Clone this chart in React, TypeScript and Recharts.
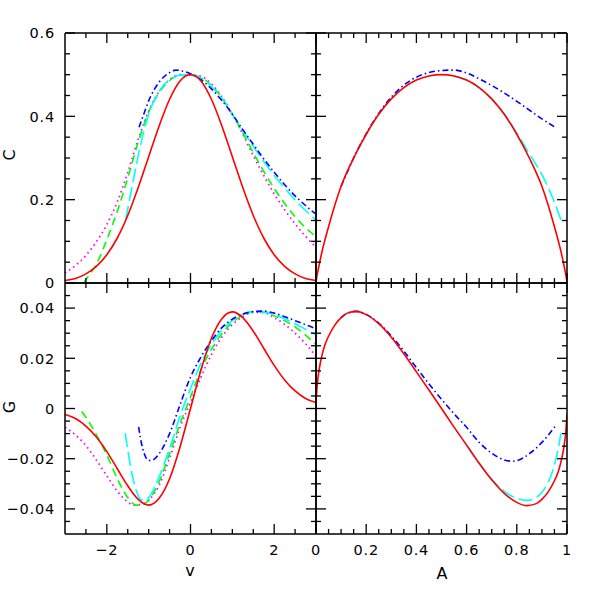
import React from 'react';
import { LineChart, Line, XAxis, YAxis } from 'recharts';

const W = 598;
const H = 598;
const FONT = '"DejaVu Sans", Verdana, sans-serif';

// ---------- tick values ----------
const vTicks = [-2.5, -2, -1.5, -1, -0.5, 0, 0.5, 1, 1.5, 2, 2.5];
const vMajor = [-2, 0, 2];
const cTicks = [0, 0.05, 0.1, 0.15, 0.2, 0.25, 0.3, 0.35, 0.4, 0.45, 0.5, 0.55, 0.6];
const cMajor = [0, 0.2, 0.4, 0.6];
const gTicks = [-0.045, -0.04, -0.035, -0.03, -0.025, -0.02, -0.015, -0.01, -0.005, 0, 0.005, 0.01, 0.015, 0.02, 0.025, 0.03, 0.035, 0.04, 0.045];
const gMajor = [-0.04, -0.02, 0, 0.02, 0.04];
const aTicks = [0, 0.05, 0.1, 0.15, 0.2, 0.25, 0.3, 0.35, 0.4, 0.45, 0.5, 0.55, 0.6, 0.65, 0.7, 0.75, 0.8, 0.85, 0.9, 0.95, 1];
const aMajor = [0, 0.2, 0.4, 0.6, 0.8, 1];

// ---------- top-left: C vs v ----------
const vRedC = [-3, -2.75, -2.5, -2.25, -2, -1.75, -1.5, -1.25, -1, -0.75, -0.5, -0.25, 0, 0.25, 0.5, 0.75, 1, 1.25, 1.5, 1.75, 2, 2.25, 2.5, 2.75, 3];
const cRed = [0.006, 0.011, 0.022, 0.040, 0.068, 0.108, 0.162, 0.229, 0.303, 0.377, 0.441, 0.485, 0.5, 0.485, 0.441, 0.377, 0.303, 0.229, 0.162, 0.108, 0.068, 0.040, 0.022, 0.011, 0.006];
const vMagC = [-3, -2.75, -2.5, -2.25, -2, -1.75, -1.5, -1.25, -1, -0.75, -0.5, -0.25, 0, 0.25, 0.5, 0.75, 1, 1.25, 1.5, 1.75, 2, 2.25, 2.5, 2.75, 3];
const cMag = [0.024, 0.042, 0.066, 0.099, 0.14, 0.195, 0.265, 0.345, 0.412, 0.46, 0.488, 0.5, 0.499, 0.496, 0.478, 0.447, 0.405, 0.357, 0.306, 0.258, 0.214, 0.176, 0.142, 0.112, 0.086];
const vGreenC = [-2.55, -2.5, -2.25, -2, -1.75, -1.5, -1.25, -1, -0.75, -0.5, -0.25, 0, 0.25, 0.5, 0.75, 1, 1.25, 1.5, 1.75, 2, 2.25, 2.5, 2.75, 3];
const cGreen = [0.0, 0.008, 0.045, 0.104, 0.172, 0.252, 0.338, 0.41, 0.457, 0.486, 0.498, 0.499, 0.494, 0.474, 0.445, 0.405, 0.36, 0.313, 0.268, 0.227, 0.191, 0.159, 0.133, 0.111];
const vCyanC = [-1.55, -1.5, -1.4, -1.25, -1.1, -1, -0.75, -0.5, -0.25, 0, 0.25, 0.5, 0.75, 1, 1.25, 1.5, 1.75, 2, 2.25, 2.5, 2.75, 3];
const cCyan = [0.152, 0.178, 0.23, 0.305, 0.37, 0.405, 0.46, 0.488, 0.499, 0.499, 0.492, 0.472, 0.443, 0.405, 0.366, 0.328, 0.292, 0.258, 0.228, 0.199, 0.174, 0.151];
const vBlueC = [-1.23, -1.1, -1, -0.75, -0.5, -0.35, -0.2, 0, 0.25, 0.5, 0.75, 1, 1.25, 1.5, 1.75, 2, 2.25, 2.5, 2.75, 3];
const cBlue = [0.374, 0.41, 0.437, 0.482, 0.505, 0.511, 0.509, 0.502, 0.488, 0.466, 0.438, 0.405, 0.368, 0.333, 0.298, 0.266, 0.236, 0.209, 0.186, 0.165];

// ---------- bottom-left: G vs v ----------
const vRedG = [-3, -2.75, -2.5, -2.25, -2, -1.75, -1.5, -1.25, -1, -0.75, -0.5, -0.25, 0, 0.25, 0.5, 0.75, 1, 1.25, 1.5, 1.75, 2, 2.25, 2.5, 2.75, 3];
const gRed = [-0.0024, -0.0040, -0.0070, -0.0114, -0.0172, -0.0240, -0.0308, -0.0362, -0.0385, -0.0358, -0.0280, -0.0153, 0, 0.0153, 0.0280, 0.0358, 0.0385, 0.0362, 0.0308, 0.0240, 0.0172, 0.0114, 0.0070, 0.0040, 0.0024];
const vMagG = [-3, -2.75, -2.5, -2.25, -2, -1.75, -1.5, -1.35, -1.2, -1, -0.75, -0.5, -0.25, 0, 0.25, 0.5, 0.75, 1, 1.25, 1.5, 1.75, 2, 2.25, 2.5, 2.75, 3];
const gMag = [-0.0075, -0.0105, -0.0148, -0.0205, -0.0268, -0.0330, -0.0372, -0.0385, -0.0382, -0.0366, -0.0305, -0.0198, -0.0075, 0.0025, 0.0125, 0.0215, 0.0285, 0.0334, 0.0366, 0.0383, 0.0382, 0.0362, 0.0335, 0.0300, 0.0258, 0.0208];
const vGreenG = [-2.6, -2.5, -2.25, -2, -1.75, -1.5, -1.3, -1.15, -1, -0.75, -0.5, -0.25, 0, 0.25, 0.5, 0.75, 1, 1.25, 1.5, 1.75, 2, 2.25, 2.5, 2.75, 3];
const gGreen = [-0.0012, -0.0035, -0.0105, -0.0185, -0.0280, -0.0355, -0.0385, -0.0385, -0.0365, -0.0292, -0.0180, -0.0060, 0.0045, 0.0155, 0.0235, 0.0298, 0.0343, 0.0372, 0.0385, 0.0384, 0.0369, 0.0350, 0.0325, 0.0292, 0.0255];
const vCyanG = [-1.56, -1.5, -1.4, -1.3, -1.2, -1.1, -1, -0.75, -0.5, -0.25, 0, 0.25, 0.5, 0.75, 1, 1.25, 1.5, 1.75, 2, 2.25, 2.5, 2.75, 3];
const gCyan = [-0.0098, -0.0165, -0.026, -0.0325, -0.0362, -0.0367, -0.0355, -0.0272, -0.0160, -0.0030, 0.0080, 0.018, 0.0255, 0.0312, 0.0350, 0.0375, 0.0386, 0.0385, 0.0374, 0.0358, 0.0338, 0.0316, 0.0294];
const vBlueG = [-1.24, -1.2, -1.15, -1.1, -1, -0.9, -0.75, -0.5, -0.25, 0, 0.25, 0.5, 0.75, 1, 1.25, 1.5, 1.75, 2, 2.25, 2.5, 2.75, 3];
const gBlue = [-0.0073, -0.0115, -0.0155, -0.0182, -0.0207, -0.0205, -0.0180, -0.0100, 0.0015, 0.0125, 0.0205, 0.0270, 0.0322, 0.0356, 0.0376, 0.0386, 0.0388, 0.0380, 0.0366, 0.0350, 0.0334, 0.0318];

// ---------- top-right: C vs A ----------
const aRedC = [0, 0.0025, 0.01, 0.025, 0.05, 0.1, 0.15, 0.2, 0.25, 0.3, 0.35, 0.4, 0.45, 0.5, 0.55, 0.6, 0.65, 0.7, 0.75, 0.8, 0.85, 0.9, 0.95, 0.975, 0.99, 0.9975, 1];
const cRedA = [0, 0.012, 0.036, 0.078, 0.135, 0.232, 0.300, 0.357, 0.405, 0.442, 0.469, 0.487, 0.497, 0.5, 0.497, 0.487, 0.469, 0.442, 0.405, 0.357, 0.300, 0.232, 0.135, 0.078, 0.036, 0.012, 0];
const aBlueC = [0.1, 0.15, 0.2, 0.25, 0.3, 0.35, 0.4, 0.45, 0.5, 0.55, 0.6, 0.65, 0.7, 0.75, 0.8, 0.85, 0.9, 0.952];
const cBlueA = [0.232, 0.300, 0.358, 0.407, 0.446, 0.475, 0.494, 0.505, 0.510, 0.511, 0.504, 0.490, 0.474, 0.456, 0.436, 0.415, 0.394, 0.374];
const aCyanC = [0.55, 0.6, 0.65, 0.7, 0.75, 0.8, 0.85, 0.9, 0.95, 0.976];
const cCyanA = [0.497, 0.487, 0.469, 0.442, 0.406, 0.360, 0.310, 0.260, 0.194, 0.151];

// ---------- bottom-right: G vs A ----------
const aRedG = [0, 0.005, 0.01, 0.02, 0.035, 0.05, 0.075, 0.1, 0.125, 0.16, 0.2, 0.25, 0.3, 0.35, 0.4, 0.45, 0.5, 0.55, 0.6, 0.65, 0.7, 0.75, 0.8, 0.84, 0.875, 0.9, 0.925, 0.95, 0.965, 0.98, 0.99, 0.995, 1];
const gRedA = [0.0024, 0.0095, 0.0138, 0.0195, 0.0252, 0.0288, 0.0332, 0.0362, 0.0380, 0.0387, 0.0374, 0.0338, 0.0284, 0.0218, 0.0146, 0.0074, 0, -0.0074, -0.0146, -0.0218, -0.0284, -0.0338, -0.0374, -0.0387, -0.0380, -0.0362, -0.0332, -0.0288, -0.0252, -0.0195, -0.0138, -0.0095, -0.0024];
const aCyanG = [0.6, 0.65, 0.7, 0.75, 0.8, 0.84, 0.875, 0.9, 0.925, 0.95, 0.965, 0.976];
const gCyanA = [-0.0146, -0.0218, -0.0282, -0.0330, -0.0358, -0.0366, -0.0356, -0.0334, -0.0295, -0.0225, -0.016, -0.0098];
const aBlueG = [0.1, 0.125, 0.16, 0.2, 0.25, 0.3, 0.35, 0.4, 0.45, 0.5, 0.55, 0.6, 0.65, 0.7, 0.75, 0.78, 0.8, 0.85, 0.9, 0.952];
const gBlueA = [0.0362, 0.0380, 0.0387, 0.0375, 0.0340, 0.0289, 0.0229, 0.0163, 0.0098, 0.0037, -0.0021, -0.0075, -0.0135, -0.0178, -0.0205, -0.021, -0.0208, -0.018, -0.0135, -0.0072];

// ---------- styles ----------
type LStyle = { color: string; dash?: string; width: number };
const RED: LStyle = { color: '#ff0000', width: 1.6 };
const BLUE: LStyle = { color: '#0000ff', dash: '6 3 1.5 3', width: 1.6 };
const CYAN: LStyle = { color: '#00ffff', dash: '14 5', width: 1.6 };
const GREEN: LStyle = { color: '#00ff00', dash: '8 5', width: 1.6 };
const MAGENTA: LStyle = { color: '#ff00ff', dash: '1.5 3.5', width: 1.8 };

type Series = { xs: number[]; ys: number[]; st: LStyle };

const isMajor = (majors: number[], v: number) => majors.some((m) => Math.abs(m - v) < 1e-9);
const fmt = (v: number) => {
  const r = Math.round(v * 10000) / 10000;
  if (r === 0) return '0';
  return r < 0 ? '\u2212' + String(-r) : String(r);
};

const TICK_STYLE = { fontFamily: FONT, fontSize: 14.5, letterSpacing: 0.8, fill: '#000' };

const makeTick = (side: 'bottom' | 'top' | 'left' | 'right', majors: number[], labels: boolean) => (props: any) => {
  const { x, y, payload } = props;
  const v = payload.value;
  const maj = isMajor(majors, v);
  const len = maj ? 10 : 5;
  let x2 = x;
  let y2 = y;
  if (side === 'bottom') y2 = y - len;
  if (side === 'top') y2 = y + len;
  if (side === 'left') x2 = x + len;
  if (side === 'right') x2 = x - len;
  let label = null;
  if (labels && maj) {
    if (side === 'bottom') {
      label = (
        <text x={x} y={y + 21} textAnchor="middle" style={TICK_STYLE}>
          {fmt(v)}
        </text>
      );
    } else if (side === 'left') {
      label = (
        <text x={x - 10} y={y} dy="0.36em" textAnchor="end" style={TICK_STYLE}>
          {fmt(v)}
        </text>
      );
    }
  }
  return (
    <g>
      <line x1={x} y1={y} x2={x2} y2={y2} stroke="#000" strokeWidth={1.3} />
      {label}
    </g>
  );
};

type PanelProps = {
  box: { top: number; left: number; right: number; bottom: number };
  xDomain: [number, number];
  yDomain: [number, number];
  xTicks: number[];
  xMajor: number[];
  yTicks: number[];
  yMajor: number[];
  xLabels: boolean;
  yLabels: boolean;
  series: Series[];
};

const AX = { stroke: '#000', strokeWidth: 1.5 };

function Panel(p: PanelProps) {
  // axes take 1px each; margins are reduced so the plot area lands on the box
  const m = { top: p.box.top - 1, left: p.box.left - 1, right: W - p.box.right - 1, bottom: H - p.box.bottom - 1 };
  return (
    <div style={{ position: 'absolute', left: 0, top: 0 }}>
      <LineChart width={W} height={H} margin={m}>
        <XAxis xAxisId="b" type="number" dataKey="x" domain={p.xDomain} ticks={p.xTicks} interval={0}
          orientation="bottom" height={1} tickSize={0} tickMargin={0} tickLine={false} axisLine={AX}
          allowDataOverflow tick={makeTick('bottom', p.xMajor, p.xLabels)} />
        <XAxis xAxisId="t" type="number" dataKey="x" domain={p.xDomain} ticks={p.xTicks} interval={0}
          orientation="top" height={1} tickSize={0} tickMargin={0} tickLine={false} axisLine={AX}
          allowDataOverflow tick={makeTick('top', p.xMajor, false)} />
        <YAxis yAxisId="l" type="number" domain={p.yDomain} ticks={p.yTicks} interval={0}
          orientation="left" width={1} tickSize={0} tickMargin={0} tickLine={false} axisLine={AX}
          allowDataOverflow tick={makeTick('left', p.yMajor, p.yLabels)} />
        <YAxis yAxisId="r" type="number" domain={p.yDomain} ticks={p.yTicks} interval={0}
          orientation="right" width={1} tickSize={0} tickMargin={0} tickLine={false} axisLine={AX}
          allowDataOverflow tick={makeTick('right', p.yMajor, false)} />
        {p.series.map((s, i) => (
          <Line
            key={i}
            xAxisId="b"
            yAxisId="l"
            data={s.xs.map((x, j) => ({ x, y: s.ys[j] }))}
            dataKey="y"
            type="monotone"
            dot={false}
            activeDot={false}
            stroke={s.st.color}
            strokeWidth={s.st.width}
            strokeDasharray={s.st.dash}
            isAnimationActive={false}
          />
        ))}
      </LineChart>
    </div>
  );
}

const TITLE_STYLE = { fontFamily: FONT, fontSize: 16, fill: '#000' };

export default function App() {
  return (
    <div style={{ position: 'absolute', left: 0, top: 0, width: W, height: H, background: '#fff' }}>
      <Panel
        box={{ top: 33, left: 65, right: 316, bottom: 283 }}
        xDomain={[-3, 3]} yDomain={[0, 0.6]}
        xTicks={vTicks} xMajor={vMajor} yTicks={cTicks} yMajor={cMajor}
        xLabels={false} yLabels={true}
        series={[
          { xs: vMagC, ys: cMag, st: MAGENTA },
          { xs: vGreenC, ys: cGreen, st: GREEN },
          { xs: vCyanC, ys: cCyan, st: CYAN },
          { xs: vBlueC, ys: cBlue, st: BLUE },
          { xs: vRedC, ys: cRed, st: RED },
        ]}
      />
      <Panel
        box={{ top: 33, left: 316, right: 567, bottom: 283 }}
        xDomain={[0, 1]} yDomain={[0, 0.6]}
        xTicks={aTicks} xMajor={aMajor} yTicks={cTicks} yMajor={cMajor}
        xLabels={false} yLabels={false}
        series={[
          { xs: aCyanC, ys: cCyanA, st: CYAN },
          { xs: aBlueC, ys: cBlueA, st: BLUE },
          { xs: aRedC, ys: cRedA, st: RED },
        ]}
      />
      <Panel
        box={{ top: 283, left: 65, right: 316, bottom: 534 }}
        xDomain={[-3, 3]} yDomain={[-0.05, 0.05]}
        xTicks={vTicks} xMajor={vMajor} yTicks={gTicks} yMajor={gMajor}
        xLabels={true} yLabels={true}
        series={[
          { xs: vMagG, ys: gMag, st: MAGENTA },
          { xs: vGreenG, ys: gGreen, st: GREEN },
          { xs: vCyanG, ys: gCyan, st: CYAN },
          { xs: vBlueG, ys: gBlue, st: BLUE },
          { xs: vRedG, ys: gRed, st: RED },
        ]}
      />
      <Panel
        box={{ top: 283, left: 316, right: 567, bottom: 534 }}
        xDomain={[0, 1]} yDomain={[-0.05, 0.05]}
        xTicks={aTicks} xMajor={aMajor} yTicks={gTicks} yMajor={gMajor}
        xLabels={true} yLabels={false}
        series={[
          { xs: aCyanG, ys: gCyanA, st: CYAN },
          { xs: aBlueG, ys: gBlueA, st: BLUE },
          { xs: aRedG, ys: gRedA, st: RED },
        ]}
      />
      <svg width={W} height={H} style={{ position: 'absolute', left: 0, top: 0, pointerEvents: 'none' }}>
        <text x={15} y={155} transform="rotate(-90 15 155)" textAnchor="middle" style={TITLE_STYLE}>C</text>
        <text x={15} y={407} transform="rotate(-90 15 407)" textAnchor="middle" style={TITLE_STYLE}>G</text>
        <text x={190} y={576} textAnchor="middle" style={TITLE_STYLE}>v</text>
        <text x={442} y={579} textAnchor="middle" style={TITLE_STYLE}>A</text>
      </svg>
    </div>
  );
}
